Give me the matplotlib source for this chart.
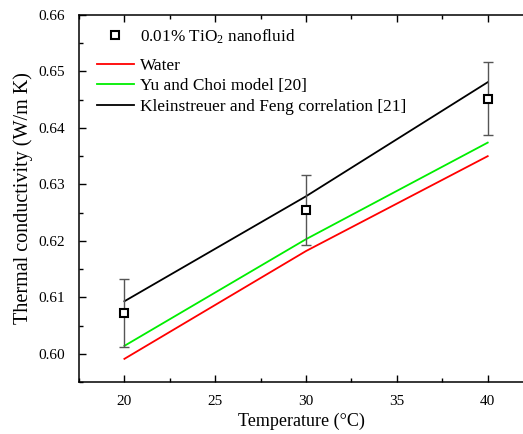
"""Thermal conductivity of 0.01% TiO2 nanofluid vs temperature."""

import matplotlib

matplotlib.use("Agg")
import matplotlib.pyplot as plt
from matplotlib.lines import Line2D
from matplotlib.ticker import MultipleLocator, FormatStrFormatter

temps = [20, 30, 40]
nano_k = [0.6072, 0.6254, 0.6452]
nano_err = [0.0060, 0.0062, 0.0065]
water_k = [0.5991, 0.6182, 0.6350]
yu_choi_k = [0.6014, 0.6203, 0.6374]
kf_k = [0.6093, 0.6279, 0.6481]

plt.rcParams.update({
    "font.family": ["Liberation Serif", "DejaVu Serif"],
    "mathtext.fontset": "custom",
    "mathtext.rm": "Liberation Serif",
    "mathtext.it": "Liberation Serif:italic",
    "font.size": 10.5,
})

fig = plt.figure(figsize=(5.23, 4.34), dpi=100)
ax = fig.add_axes([0.151, 0.1198, 0.851, 0.8456])

marker_style = dict(marker="s", ms=5.5, mfc="white", mec="black", mew=1.5)
ax.errorbar(temps, nano_k, yerr=nano_err, fmt="none", ecolor="#555555",
            elinewidth=1.0, capsize=3.5, capthick=1.0, zorder=4)
ax.plot(temps, nano_k, ls="none", zorder=5, **marker_style)
l_water, = ax.plot(temps, water_k, color="#ff0000", lw=1.3)
l_yu, = ax.plot(temps, yu_choi_k, color="#00ee00", lw=1.3)
l_kf, = ax.plot(temps, kf_k, color="black", lw=1.3)

ax.set_xlim(17.5, 42.0)
ax.set_ylim(0.595, 0.66)
ax.xaxis.set_major_locator(MultipleLocator(5))
ax.xaxis.set_minor_locator(MultipleLocator(2.5))
ax.yaxis.set_major_locator(MultipleLocator(0.01))
ax.yaxis.set_minor_locator(MultipleLocator(0.005))
ax.yaxis.set_major_formatter(FormatStrFormatter("%.2f"))
ax.tick_params(which="both", direction="in", top=True, right=False, labelsize=11)
ax.tick_params(which="major", length=5, width=1.0)
ax.tick_params(which="minor", length=3, width=1.0)
ax.tick_params(axis="y", which="major", pad=10)
ax.tick_params(axis="x", which="major", pad=9)
for side in ("left", "bottom", "top"):
    ax.spines[side].set_linewidth(1.1)
ax.spines["right"].set_visible(False)

ax.set_xlabel("Temperature (°C)", fontsize=13, labelpad=4)
ax.set_ylabel("Thermal conductivity (W/m K)", fontsize=14.5, labelpad=4)

leg_kw = dict(frameon=False, fontsize=12.4, handlelength=2.15, handletextpad=0.35,
              borderpad=0, borderaxespad=0, loc="upper left")
nano_handle = Line2D([], [], ls="none", **marker_style)
leg1 = ax.legend([nano_handle], ["0.01% TiO$_2$ nanofluid"],
                 bbox_to_anchor=(0.040, 0.966), **leg_kw)
ax.add_artist(leg1)
ax.legend([l_water, l_yu, l_kf],
          ["Water", "Yu and Choi model [20]", "Kleinstreuer and Feng correlation [21]"],
          bbox_to_anchor=(0.040, 0.884), labelspacing=0.26, **leg_kw)

fig.savefig("out.png", dpi=100)
